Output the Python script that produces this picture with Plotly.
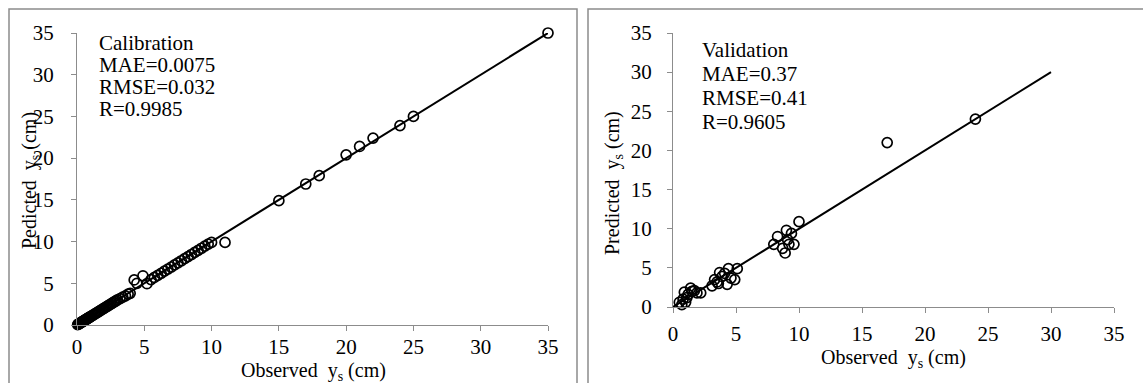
import plotly.graph_objects as go

# ---------------- data ----------------
cal_observed = [0.05, 0.1, 0.15, 0.2, 0.25, 0.3, 0.35, 0.4, 0.45, 0.5, 0.55, 0.6, 0.65, 0.7,
                0.75, 0.8, 0.85, 0.9, 0.95, 1.0, 1.1, 1.2, 1.3, 1.4, 1.5, 1.6, 1.7, 1.8, 1.9,
                2.0, 2.1, 2.2, 2.3, 2.4, 2.5, 2.6, 2.7, 2.8, 2.9, 3.0, 3.2, 3.4, 3.6, 3.8, 3.95,
                4.25, 4.45, 4.9, 5.2,
                5.5, 5.75, 6.0, 6.25, 6.5, 6.75, 7.0, 7.25, 7.5, 7.75, 8.0, 8.25, 8.5, 8.75,
                9.0, 9.25, 9.5, 9.75, 10.0, 11.0,
                15.0, 17.0, 18.0, 20.0, 21.0, 22.0, 24.0, 25.0, 35.0]
cal_predicted = [0.05, 0.1, 0.15, 0.2, 0.25, 0.3, 0.35, 0.4, 0.45, 0.5, 0.55, 0.6, 0.65, 0.7,
                 0.75, 0.8, 0.85, 0.9, 0.95, 1.0, 1.1, 1.2, 1.3, 1.4, 1.5, 1.6, 1.7, 1.8, 1.9,
                 2.0, 2.1, 2.2, 2.3, 2.4, 2.5, 2.6, 2.7, 2.8, 2.9, 3.0, 3.15, 3.35, 3.5, 3.7, 3.8,
                 5.4, 5.0, 5.9, 4.95,
                 5.45, 5.7, 5.95, 6.2, 6.45, 6.7, 6.95, 7.2, 7.45, 7.7, 7.95, 8.2, 8.45, 8.7,
                 8.95, 9.2, 9.45, 9.7, 9.9, 9.9,
                 14.9, 16.9, 17.9, 20.4, 21.4, 22.4, 23.9, 25.0, 35.0]

val_observed = [0.5, 0.7, 0.8, 0.9, 1.0, 1.1, 1.2, 1.4, 1.5, 1.7, 1.9, 2.2,
                3.1, 3.3, 3.5, 3.6, 3.7, 3.9, 4.1, 4.3, 4.4, 4.6, 4.9, 5.1,
                8.0, 8.3, 8.7, 8.9, 9.0, 9.1, 9.2, 9.4, 9.6, 10.0,
                17.0, 24.0]
val_predicted = [0.6, 0.3, 1.0, 1.9, 0.6, 1.2, 1.6, 2.4, 2.0, 2.1, 1.8, 1.8,
                 2.7, 3.5, 3.2, 3.0, 4.4, 3.9, 4.3, 2.9, 4.9, 3.7, 3.5, 4.9,
                 8.0, 9.0, 7.5, 6.9, 9.8, 8.6, 8.0, 9.4, 8.0, 10.9,
                 21.0, 24.0]

cal_line_x = [0, 35]
cal_line_y = [0, 35]
val_line_x = [0, 30]
val_line_y = [0, 30]

axis_ticks = [0, 5, 10, 15, 20, 25, 30, 35]

cal_text = ["Calibration", "MAE=0.0075", "RMSE=0.032", "R=0.9985"]
val_text = ["Validation", "MAE=0.37", "RMSE=0.41", "R=0.9605"]

# ---------------- figure ----------------
W, H = 1143, 383
FONT = "Liberation Serif"
GRAY = "#8c8c8c"

def px(x):
    return x / W

def py(y):
    return 1 - y / H

fig = go.Figure()

marker = dict(symbol="circle-open", size=10, color="black", line=dict(width=1.7, color="black"))

fig.add_trace(go.Scatter(x=cal_line_x, y=cal_line_y, mode="lines",
                         line=dict(color="black", width=2), xaxis="x", yaxis="y",
                         showlegend=False, hoverinfo="skip"))
fig.add_trace(go.Scatter(x=cal_observed, y=cal_predicted, mode="markers", marker=marker,
                         xaxis="x", yaxis="y", showlegend=False, cliponaxis=False))
fig.add_trace(go.Scatter(x=val_line_x, y=val_line_y, mode="lines",
                         line=dict(color="black", width=2), xaxis="x2", yaxis="y2",
                         showlegend=False, hoverinfo="skip"))
fig.add_trace(go.Scatter(x=val_observed, y=val_predicted, mode="markers", marker=marker,
                         xaxis="x2", yaxis="y2", showlegend=False, cliponaxis=False))

tick_font = dict(family=FONT, size=21, color="black")
axis_common = dict(range=[0, 35], tickvals=axis_ticks,
                   showgrid=False, zeroline=False, automargin=False,
                   showline=True, linecolor=GRAY, linewidth=1.3, ticks="outside",
                   ticklen=5, tickcolor=GRAY, tickwidth=1.3, tickfont=tick_font)

fig.update_layout(
    template="none",
    width=W, height=H, margin=dict(l=0, r=0, t=0, b=0, pad=0),
    paper_bgcolor="white", plot_bgcolor="white",
    font=dict(family=FONT, size=20, color="black"),
    xaxis=dict(domain=[px(77), px(548)], anchor="y", ticklabelstandoff=-2, **axis_common),
    yaxis=dict(domain=[py(325), py(33)], anchor="x", ticklabelstandoff=13, **axis_common),
    xaxis2=dict(domain=[px(673), px(1114)], anchor="y2", ticklabelstandoff=3, **axis_common),
    yaxis2=dict(domain=[py(307), py(33)], anchor="x2", ticklabelstandoff=11, **axis_common),
)

shapes = [
    dict(type="rect", xref="paper", yref="paper", x0=px(9), x1=px(577), y0=-0.2, y1=py(9),
         line=dict(color=GRAY, width=1.5)),
    dict(type="rect", xref="paper", yref="paper", x0=px(588), x1=1.2, y0=-0.2, y1=py(9),
         line=dict(color=GRAY, width=1.5)),
]
fig.update_layout(shapes=shapes)

annotations = []
for i, t in enumerate(cal_text):
    annotations.append(dict(text=t, xref="paper", yref="paper", x=px(97), y=py(43 + 22 * i),
                            xanchor="left", yanchor="middle", showarrow=False,
                            font=dict(family=FONT, size=21, color="black")))
for i, t in enumerate(val_text):
    annotations.append(dict(text=t, xref="paper", yref="paper", x=px(700), y=py(50 + 24 * i),
                            xanchor="left", yanchor="middle", showarrow=False,
                            font=dict(family=FONT, size=21, color="black")))

title_font = dict(family=FONT, size=20, color="black")
annotations += [
    dict(text="Observed  y<sub>s</sub> (cm)", xref="paper", yref="paper", x=px(313), y=py(371),
         xanchor="center", yanchor="middle", showarrow=False, font=title_font),
    dict(text="Observed  y<sub>s</sub> (cm)", xref="paper", yref="paper", x=px(893), y=py(358),
         xanchor="center", yanchor="middle", showarrow=False, font=title_font),
    dict(text="Pedicted  y<sub>s</sub> (cm)", xref="paper", yref="paper", x=px(30), y=py(181),
         xanchor="center", yanchor="middle", textangle=-90, showarrow=False, font=title_font),
    dict(text="Predicted  y<sub>s</sub> (cm)", xref="paper", yref="paper", x=px(613), y=py(183),
         xanchor="center", yanchor="middle", textangle=-90, showarrow=False, font=title_font),
]
fig.update_layout(annotations=annotations)

fig.write_html("out.html", config={"displayModeBar": False},
               post_script="document.body.style.margin='0';document.body.style.padding='0';")
